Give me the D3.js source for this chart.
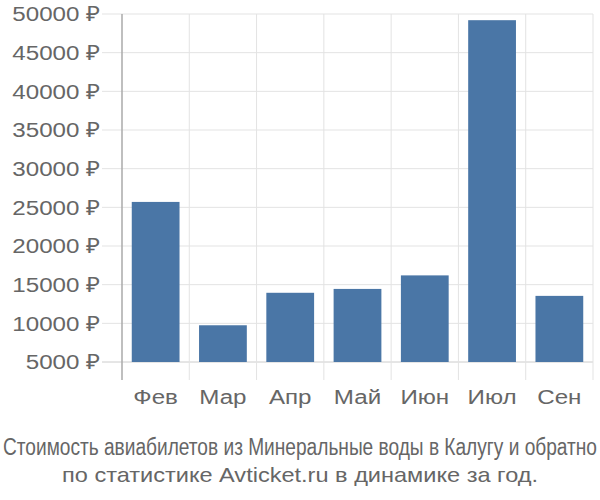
<!DOCTYPE html>
<html>
<head>
<meta charset="utf-8">
<script src="https://cdn.jsdelivr.net/npm/d3@7"></script>
<style>
body { margin: 0; background: #fff; }
svg { display: block; font-family: "Liberation Sans", Arial, sans-serif; }
</style>
</head>
<body>
<script>
var months = ['Фев', 'Мар', 'Апр', 'Май', 'Июн', 'Июл', 'Сен'];
var prices = [25700, 9750, 13950, 14450, 16200, 49200, 13550];
var yTicks = [5000, 10000, 15000, 20000, 25000, 30000, 35000, 40000, 45000, 50000];
var titleLines = ['Стоимость авиабилетов из Минеральные воды в Калугу и обратно',
	'по статистике Avticket.ru в динамике за год.'];

var width = 600, height = 500;
var stretch = 1.15;
var svg = d3.select('body').append('svg')
	.attr('width', width).attr('height', height);

var x = d3.scaleBand().domain(months).range([122, 593]).paddingInner(0.29).paddingOuter(0.145);
var y = d3.scaleLinear().domain([5000, 50000]).range([362, 14]);

// horizontal grid + y labels
var yAxis = svg.append('g').attr('class', 'y');
yAxis.selectAll('line').data(yTicks).enter().append('line')
	.attr('x1', 102).attr('x2', 593)
	.attr('y1', function (d) { return y(d); })
	.attr('y2', function (d) { return y(d); })
	.attr('stroke', function (d) { return d === 5000 ? '#ccc' : '#e3e3e3'; })
	.attr('stroke-width', 1);
yAxis.selectAll('text').data(yTicks).enter().append('text')
	.attr('transform', function (d) { return 'translate(100,' + y(d) + ') scale(' + stretch + ',1)'; })
	.attr('dy', '0.35em')
	.attr('text-anchor', 'end')
	.attr('font-size', 21)
	.attr('fill', '#666')
	.text(function (d) { return d + ' ₽'; });

// vertical grid between categories
var edges = months.map(function (m) { return x(m) - x.step() * x.paddingInner() / 2; });
edges.push(x(months[months.length - 1]) + x.bandwidth() + x.step() * x.paddingInner() / 2);
svg.append('g').selectAll('line').data(edges).enter().append('line')
	.attr('x1', function (d) { return d; })
	.attr('x2', function (d) { return d; })
	.attr('y1', 14).attr('y2', 380)
	.attr('stroke', function (d, i) { return i === 0 ? '#aaa' : '#e3e3e3'; })
	.attr('stroke-width', function (d, i) { return i === 0 ? 1.5 : 1; });

// bars
svg.append('g').selectAll('rect').data(prices).enter().append('rect')
	.attr('x', function (d, i) { return x(months[i]); })
	.attr('width', x.bandwidth())
	.attr('y', function (d) { return y(d); })
	.attr('height', function (d) { return y(5000) - y(d); })
	.attr('fill', '#4a76a6');

// x labels
svg.append('g').selectAll('text').data(months).enter().append('text')
	.attr('transform', function (d) { return 'translate(' + (x(d) + x.bandwidth() / 2) + ',404) scale(' + stretch + ',1)'; })
	.attr('text-anchor', 'middle')
	.attr('font-size', 21)
	.attr('fill', '#666')
	.text(function (d) { return d; });

// title
svg.append('text')
	.attr('x', 300).attr('y', 455)
	.attr('text-anchor', 'middle')
	.attr('font-size', 23)
	.attr('fill', '#666')
	.attr('textLength', 594)
	.attr('lengthAdjust', 'spacingAndGlyphs')
	.text(titleLines[0]);
svg.append('text')
	.attr('x', 300).attr('y', 482)
	.attr('text-anchor', 'middle')
	.attr('font-size', 21)
	.attr('fill', '#666')
	.attr('textLength', 476)
	.attr('lengthAdjust', 'spacingAndGlyphs')
	.text(titleLines[1]);
</script>
</body>
</html>
